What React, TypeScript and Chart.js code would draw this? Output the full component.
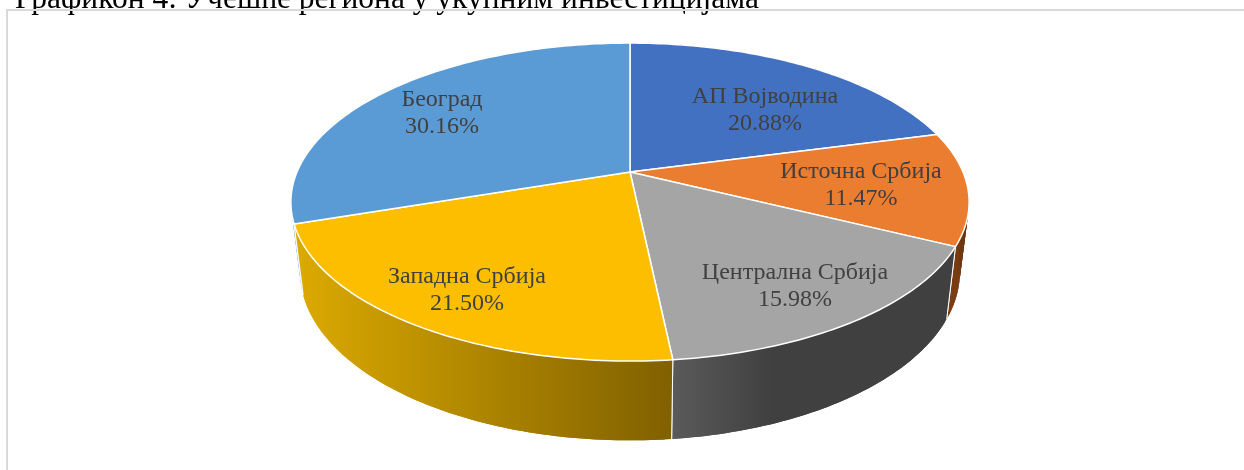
import React, { useEffect, useRef } from "react";
import { Chart, registerables } from "chart.js";

Chart.register(...registerables);

const regions = ["АП Војводина", "Источна Србија", "Централна Србија", "Западна Србија", "Београд"];
const shares = [20.88, 11.47, 15.98, 21.5, 30.16];
const shareLabels = ["20.88%", "11.47%", "15.98%", "21.50%", "30.16%"];
const topColors = ["#4371c2", "#eb7d30", "#a5a5a5", "#fdbe00", "#5b9bd5"];
const sideColors = [
  ["#2f5597", "#2f5597"],
  ["#7a3d12", "#5f300e"],
  ["#5a5a5a", "#404040"],
  ["#dcaa00", "#806000"],
  ["#a9c8e8", "#a9c8e8"],
];
const titleText = "Графикон 4: Учешће региона у укупним инвестицијама";

const TOP = { cx: 630, cy: 172, rx: 333, ry: 153.3 };
const BOTTOM = { cx: 630, cy: 240, rx: 324, ry: 162.5 };
const PERSPECTIVE = 0.189;
const labelCentres = [
  [765, 110],
  [861, 185],
  [795, 286],
  [467, 290],
  [442, 113],
];

type Ring = typeof TOP;
const project = (ring: Ring, a: number): [number, number] => {
  const u = Math.sin(a);
  const v = -Math.cos(a);
  const k = 1 / (1 - PERSPECTIVE * v);
  return [ring.cx + ring.rx * u * k, ring.cy + ring.ry * v * k];
};

const arcSteps = (a0: number, a1: number) => {
  const n = Math.max(2, Math.ceil((a1 - a0) / (Math.PI / 180)));
  return Array.from({ length: n + 1 }, (_, i) => a0 + ((a1 - a0) * i) / n);
};

const pie3d = {
  id: "pie3d",
  beforeDatasetDraw(chart: any) {
    const { ctx } = chart;
    const arcs = chart.getDatasetMeta(0).data;
    const slices = arcs.map((arc: any, i: number) => ({
      i,
      a0: arc.startAngle + Math.PI / 2,
      a1: arc.endAngle + Math.PI / 2,
      color: arc.options.backgroundColor,
    }));
    ctx.save();
    ctx.lineJoin = "round";

    // walls, back to front
    const order = [...slices].sort(
      (p: any, q: any) => -Math.cos((p.a0 + p.a1) / 2) - -Math.cos((q.a0 + q.a1) / 2)
    );
    for (const s of order) {
      const steps = arcSteps(s.a0, s.a1);
      const top = steps.map((a) => project(TOP, a));
      const bot = steps.map((a) => project(BOTTOM, a));
      const visible = steps.filter((a) => -Math.cos(a) > -0.1).map((a) => project(TOP, a)[0]);
      const gx0 = visible.length ? Math.min(...visible) : top[0][0];
      const gx1 = visible.length ? Math.max(...visible) : top[0][0] + 1;
      const grad = ctx.createLinearGradient(gx0, 0, gx1 > gx0 ? gx1 : gx0 + 1, 0);
      grad.addColorStop(0, sideColors[s.i][0]);
      grad.addColorStop(s.i === 2 ? 0.35 : 1, sideColors[s.i][1]);
      grad.addColorStop(1, sideColors[s.i][1]);
      ctx.fillStyle = grad;
      for (let k = 0; k < steps.length - 1; k++) {
        const next = Math.min(k + 2, steps.length - 1);
        ctx.beginPath();
        ctx.moveTo(top[k][0], top[k][1]);
        ctx.lineTo(top[k + 1][0], top[k + 1][1]);
        ctx.lineTo(top[next][0], top[next][1]);
        ctx.lineTo(bot[next][0], bot[next][1]);
        ctx.lineTo(bot[k + 1][0], bot[k + 1][1]);
        ctx.lineTo(bot[k][0], bot[k][1]);
        ctx.closePath();
        ctx.fill();
      }
      ctx.strokeStyle = "#ffffff";
      ctx.lineWidth = 1;
      for (const idx of [0, steps.length - 1]) {
        ctx.beginPath();
        ctx.moveTo(top[idx][0], top[idx][1]);
        ctx.lineTo(bot[idx][0], bot[idx][1]);
        ctx.stroke();
      }
    }

    // top faces
    for (const s of slices) {
      const pts = arcSteps(s.a0, s.a1).map((a) => project(TOP, a));
      ctx.beginPath();
      ctx.moveTo(TOP.cx, TOP.cy);
      pts.forEach((p) => ctx.lineTo(p[0], p[1]));
      ctx.closePath();
      ctx.fillStyle = s.color;
      ctx.fill();
      ctx.strokeStyle = "#ffffff";
      ctx.lineWidth = 1.5;
      ctx.stroke();
    }
    ctx.restore();
    return false;
  },
  afterDatasetsDraw(chart: any) {
    const { ctx } = chart;
    ctx.save();
    ctx.font = '24px "Liberation Serif"';
    ctx.fillStyle = "#404040";
    ctx.textAlign = "center";
    ctx.textBaseline = "middle";
    chart.data.labels.forEach((name: string, i: number) => {
      const [x, y] = labelCentres[i];
      ctx.fillText(name, x, y - 13.5);
      ctx.fillText(shareLabels[i], x, y + 13.5);
    });

    ctx.font = '31.5px "Liberation Serif"';
    ctx.fillStyle = "#000000";
    ctx.textAlign = "left";
    ctx.textBaseline = "alphabetic";
    ctx.fillText(titleText, 15, 8);

    ctx.fillStyle = "#d9d9d9";
    ctx.fillRect(6, 9, 1238, 2);
    ctx.fillRect(6, 9, 2, 461);
    ctx.restore();
  },
};

export default function App() {
  const ref = useRef<HTMLCanvasElement>(null);
  useEffect(() => {
    const chart = new Chart(ref.current!, {
      type: "pie",
      data: {
        labels: regions,
        datasets: [{ data: shares, backgroundColor: topColors }],
      },
      options: {
        responsive: false,
        animation: false,
        plugins: { legend: { display: false }, tooltip: { enabled: false } },
      },
      plugins: [pie3d],
    } as any);
    return () => chart.destroy();
  }, []);
  return (
    <canvas
      ref={ref}
      width={1244}
      height={470}
      style={{ position: "absolute", left: 0, top: 0, display: "block", background: "#fff" }}
    />
  );
}
